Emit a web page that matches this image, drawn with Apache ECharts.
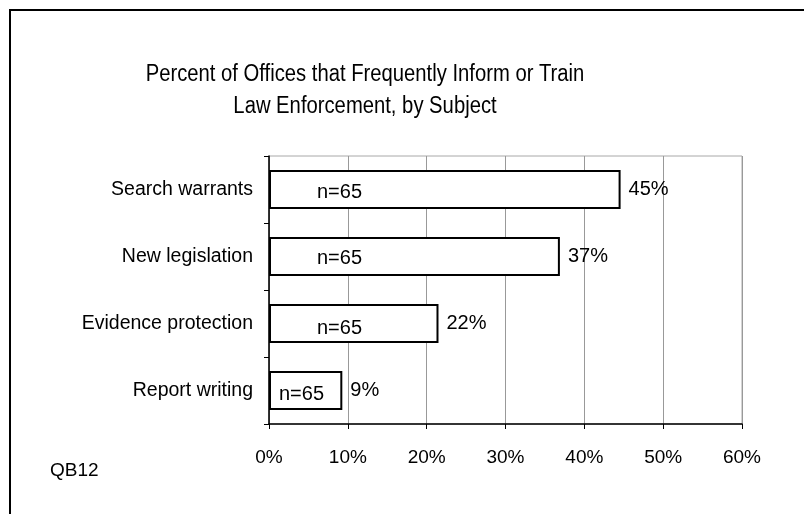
<!DOCTYPE html>
<html>
<head>
<meta charset="utf-8">
<script src="https://cdn.jsdelivr.net/npm/echarts@6/dist/echarts.min.js"></script>
<style>
html,body{margin:0;padding:0;background:#fff;}
#chart{width:804px;height:514px;}
</style>
</head>
<body>
<div id="chart"></div>
<script>
var categories = ['Search warrants', 'New legislation', 'Evidence protection', 'Report writing'];
var values = [44.6, 36.9, 21.5, 9.3];
var valueLabels = ['45%', '37%', '22%', '9%'];
var nLabels = ['n=65', 'n=65', 'n=65', 'n=65'];
var titleLines = ['Percent of Offices that Frequently Inform or Train', 'Law Enforcement, by Subject'];
var noteText = 'QB12';

var FONT = '"Liberation Sans", Arial, sans-serif';
var chart = echarts.init(document.getElementById('chart'), null, {renderer: 'canvas'});

var nOffsets = [48, 48, 48, 10];
var nDy = [3, 2, 5, 4];

chart.setOption({
  animation: false,
  backgroundColor: '#ffffff',
  grid: {left: 269, right: 62, top: 156, bottom: 90, containLabel: false,
         show: true, borderColor: '#a8a8a8', borderWidth: 1},
  xAxis: {
    type: 'value', min: 0, max: 60, interval: 10,
    axisLine: {show: true, lineStyle: {color: '#000', width: 1.5}},
    axisTick: {show: true, length: 5, lineStyle: {color: '#000'}},
    splitLine: {show: true, lineStyle: {color: '#999999', width: 1}},
    axisLabel: {formatter: '{value}%', color: '#000', fontFamily: FONT, fontSize: 19, margin: 24}
  },
  yAxis: {
    type: 'category', data: categories, inverse: true,
    axisLine: {show: true, lineStyle: {color: '#000', width: 1.5}},
    axisTick: {show: true, length: 5, lineStyle: {color: '#000'}},
    axisLabel: {color: '#000', fontFamily: FONT, fontSize: 19.5, margin: 16}
  },
  series: [
    {
      type: 'bar',
      data: values.map(function (v, i) {
        return {value: v, label: {offset: [0, nDy[i]], position: [nOffsets[i], '50%']}};
      }),
      barCategoryGap: '42%',
      itemStyle: {color: '#fff', borderColor: '#000', borderWidth: 2},
      label: {
        show: true, verticalAlign: 'middle', align: 'left',
        color: '#000', fontFamily: FONT, fontSize: 20,
        formatter: function (p) { return nLabels[p.dataIndex]; }
      }
    },
    {
      type: 'bar',
      data: values,
      barGap: '-100%',
      barCategoryGap: '42%',
      itemStyle: {color: 'rgba(0,0,0,0)', borderWidth: 0},
      label: {
        show: true, position: 'right', distance: 8,
        color: '#000', fontFamily: FONT, fontSize: 20,
        formatter: function (p) { return valueLabels[p.dataIndex]; }
      },
      z: 3
    }
  ],
  graphic: [
    {type: 'rect', shape: {x: 10, y: 10, width: 820, height: 540},
     style: {fill: 'none', stroke: '#000', lineWidth: 2}, silent: true},
    {type: 'text', x: 365, y: 75, scaleX: 0.88, style: {text: titleLines[0], font: '23px ' + FONT, fill: '#000', textAlign: 'center', textVerticalAlign: 'middle'}},
    {type: 'text', x: 365, y: 107, scaleX: 0.88, style: {text: titleLines[1], font: '23px ' + FONT, fill: '#000', textAlign: 'center', textVerticalAlign: 'middle'}},
    {type: 'text', x: 50, y: 471, style: {text: noteText, font: '19px ' + FONT, fill: '#000', textAlign: 'left', textVerticalAlign: 'middle'}}
  ]
});
</script>
</body>
</html>
